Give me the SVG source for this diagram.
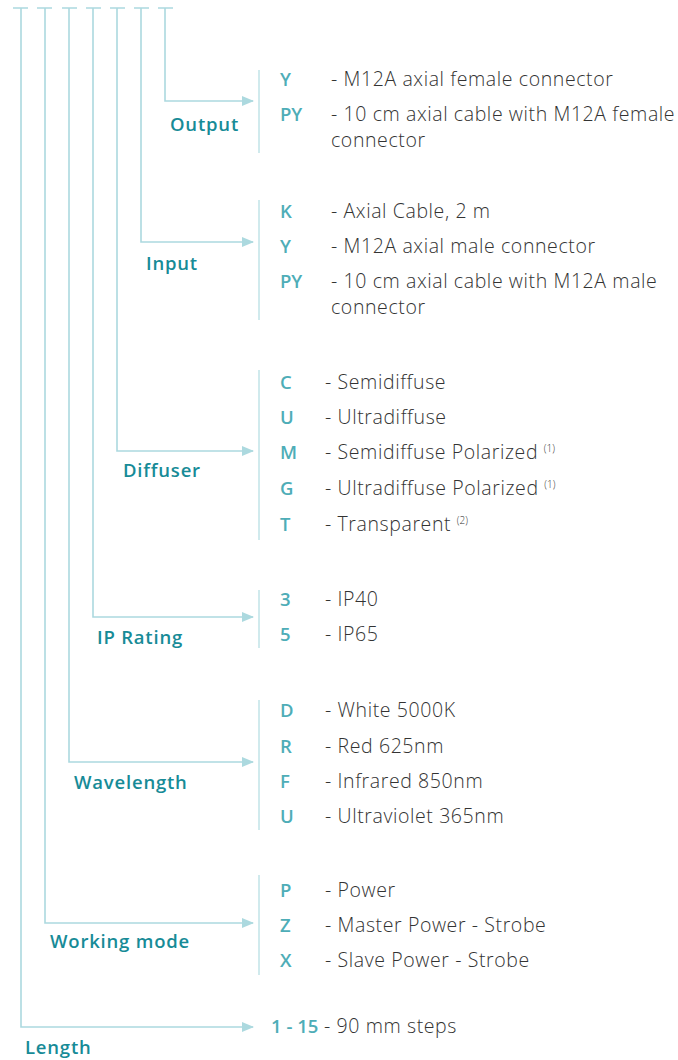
<svg xmlns="http://www.w3.org/2000/svg" width="678" height="1060" viewBox="0 0 678 1060">
<defs>
<style>
.ln{stroke:#acd9df;stroke-width:1.6;fill:none}
.bar{stroke:#c5e5e9;stroke-width:1.6}
.lab{font-family:"Open Sans","Liberation Sans",sans-serif;font-size:18.5px;font-weight:600;fill:#178b97;letter-spacing:0.8px}
.code{font-family:"Open Sans","Liberation Sans",sans-serif;font-size:18.5px;font-weight:600;fill:#4eadb7}
.desc{font-family:"Open Sans","Liberation Sans",sans-serif;font-size:19.5px;font-weight:300;fill:#333;letter-spacing:0.6px}
.sup{font-size:10px;letter-spacing:0}
</style>
<marker id="ah" viewBox="0 0 12 10" refX="11" refY="5" markerWidth="12" markerHeight="10" markerUnits="userSpaceOnUse" orient="auto">
<path d="M0,0 L12,5 L0,10 z" fill="#acd9df"/>
</marker>
</defs>
<g id="connectors">
<path class="ln" d="M13,8 H28 M37,8 H52 M62,8 H77 M86,8 H101 M110,8 H125 M134,8 H149 M158,8 H173"/>
<path class="ln" d="M165,8 V101 H253" marker-end="url(#ah)"/>
<path class="ln" d="M141,8 V242 H253" marker-end="url(#ah)"/>
<path class="ln" d="M117,8 V451 H253" marker-end="url(#ah)"/>
<path class="ln" d="M93,8 V617 H253" marker-end="url(#ah)"/>
<path class="ln" d="M69,8 V762 H253" marker-end="url(#ah)"/>
<path class="ln" d="M45,8 V923 H253" marker-end="url(#ah)"/>
<path class="ln" d="M21,8 V1027 H253" marker-end="url(#ah)"/>
</g>
<g id="output">
<line class="bar" x1="259" y1="70" x2="259" y2="153"/>
<text class="lab" x="170" y="131">Output</text>
<text class="code" x="280" y="86">Y</text>
<text class="desc" x="331" y="86">- M12A axial female connector</text>
<text class="code" x="280" y="121">PY</text>
<text class="desc" x="331" y="121">- 10 cm axial cable with M12A female</text>
<text class="desc" x="331" y="147">connector</text>
</g>
<g id="input">
<line class="bar" x1="259" y1="200" x2="259" y2="320"/>
<text class="lab" x="146" y="270">Input</text>
<text class="code" x="280" y="218">K</text>
<text class="desc" x="331" y="218">- Axial Cable, 2 m</text>
<text class="code" x="280" y="253">Y</text>
<text class="desc" x="331" y="253">- M12A axial male connector</text>
<text class="code" x="280" y="288">PY</text>
<text class="desc" x="331" y="288">- 10 cm axial cable with M12A male</text>
<text class="desc" x="331" y="314">connector</text>
</g>
<g id="diffuser">
<line class="bar" x1="259" y1="370" x2="259" y2="540"/>
<text class="lab" x="123" y="477">Diffuser</text>
<text class="code" x="280" y="389">C</text>
<text class="desc" x="325" y="389">- Semidiffuse</text>
<text class="code" x="280" y="424">U</text>
<text class="desc" x="325" y="424">- Ultradiffuse</text>
<text class="code" x="280" y="459">M</text>
<text class="desc" x="325" y="459">- Semidiffuse Polarized <tspan class="sup" dy="-7">(1)</tspan></text>
<text class="code" x="280" y="495">G</text>
<text class="desc" x="325" y="495">- Ultradiffuse Polarized <tspan class="sup" dy="-7">(1)</tspan></text>
<text class="code" x="280" y="531">T</text>
<text class="desc" x="325" y="531">- Transparent <tspan class="sup" dy="-7">(2)</tspan></text>
</g>
<g id="ip-rating">
<line class="bar" x1="259" y1="590" x2="259" y2="648"/>
<text class="lab" x="97" y="644">IP Rating</text>
<text class="code" x="280" y="606">3</text>
<text class="desc" x="325" y="606">- IP40</text>
<text class="code" x="280" y="641">5</text>
<text class="desc" x="325" y="641">- IP65</text>
</g>
<g id="wavelength">
<line class="bar" x1="259" y1="700" x2="259" y2="830"/>
<text class="lab" x="74" y="789">Wavelength</text>
<text class="code" x="280" y="717">D</text>
<text class="desc" x="325" y="717">- White 5000K</text>
<text class="code" x="280" y="753">R</text>
<text class="desc" x="325" y="753">- Red 625nm</text>
<text class="code" x="280" y="788">F</text>
<text class="desc" x="325" y="788">- Infrared 850nm</text>
<text class="code" x="280" y="823">U</text>
<text class="desc" x="325" y="823">- Ultraviolet 365nm</text>
</g>
<g id="working-mode">
<line class="bar" x1="259" y1="875" x2="259" y2="975"/>
<text class="lab" x="50" y="948">Working mode</text>
<text class="code" x="280" y="897">P</text>
<text class="desc" x="325" y="897">- Power</text>
<text class="code" x="280" y="932">Z</text>
<text class="desc" x="325" y="932">- Master Power - Strobe</text>
<text class="code" x="280" y="967">X</text>
<text class="desc" x="325" y="967">- Slave Power - Strobe</text>
</g>
<g id="length">
<text class="lab" x="25" y="1054">Length</text>
<text x="271" y="1033"><tspan class="code">1 - 15</tspan><tspan class="desc"> - 90 mm steps</tspan></text>
</g>
</svg>
